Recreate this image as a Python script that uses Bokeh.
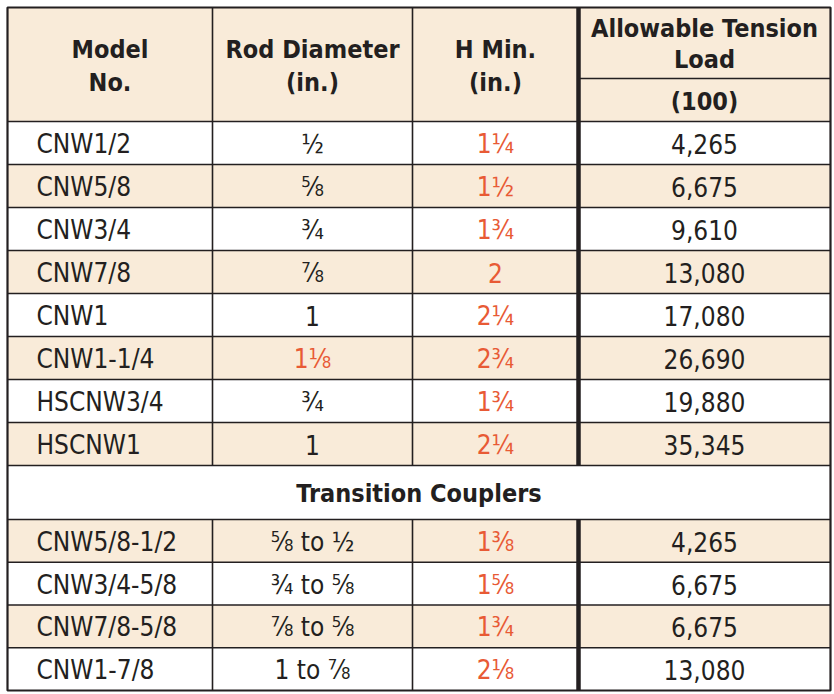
from bokeh.plotting import figure
from bokeh.models import Range1d, ColumnDataSource
from bokeh.core.properties import value
from bokeh.embed import file_html
from bokeh.resources import INLINE

# ---- data ----
header_cols = ["Model\nNo.", "Rod Diameter\n(in.)", "H Min.\n(in.)"]
header_load = "Allowable Tension\nLoad"
header_sub = "(100)"

models = ["CNW1/2", "CNW5/8", "CNW3/4", "CNW7/8", "CNW1", "CNW1-1/4", "HSCNW3/4", "HSCNW1"]
diameters = ["½", "⅝", "¾", "⅞", "1", "1⅛", "¾", "1"]
diam_highlight = [False, False, False, False, False, True, False, False]
hmins = ["1¼", "1½", "1¾", "2", "2¼", "2¾", "1¾", "2¼"]
loads = ["4,265", "6,675", "9,610", "13,080", "17,080", "26,690", "19,880", "35,345"]

section_title = "Transition Couplers"
t_models = ["CNW5/8-1/2", "CNW3/4-5/8", "CNW7/8-5/8", "CNW1-7/8"]
t_diameters = ["⅝ to ½", "¾ to ⅝", "⅞ to ⅝", "1 to ⅞"]
t_hmins = ["1⅜", "1⅝", "1¾", "2⅛"]
t_loads = ["4,265", "6,675", "6,675", "13,080"]

# ---- style ----
FONT = "DejaVu Sans Condensed"
BEIGE = "#F9EBD9"
ORANGE = "#E85A35"
DARK = "#231F20"
BODY_SIZE = "26px"
HEAD_SIZE = "25px"

# geometry (page-pixel coordinates)
X0, X1, X2, X3, X4 = 7, 212, 412, 578, 830
Y_TOP, Y_HEAD, Y_SUB = 7, 121, 78
ROW_H = 43.0
Y_SEC_TOP = Y_HEAD + ROW_H * len(models)
Y_SEC_BOT = Y_SEC_TOP + 54
Y_BOT = 690
T_ROW_H = (Y_BOT - Y_SEC_BOT) / len(t_models)

p = figure(width=834, height=694, x_range=Range1d(0, 834), y_range=Range1d(694, 0),
           output_backend="svg", toolbar_location=None, min_border=0)
p.axis.visible = False
p.grid.visible = False
p.outline_line_color = None
p.background_fill_color = "white"
p.border_fill_color = "white"

# backgrounds
lefts, rights, tops, bottoms = [], [], [], []
lefts.append(X0); rights.append(X4); tops.append(Y_TOP); bottoms.append(Y_HEAD)
for i in range(len(models)):
    if i % 2 == 1:
        lefts.append(X0); rights.append(X4)
        tops.append(Y_HEAD + i * ROW_H); bottoms.append(Y_HEAD + (i + 1) * ROW_H)
for i in range(len(t_models)):
    if i % 2 == 0:
        lefts.append(X0); rights.append(X4)
        tops.append(Y_SEC_BOT + i * T_ROW_H); bottoms.append(Y_SEC_BOT + (i + 1) * T_ROW_H)
p.quad(left=lefts, right=rights, top=tops, bottom=bottoms, fill_color=BEIGE, line_color=None)

# lines
hlines = [Y_HEAD] + [Y_HEAD + (i + 1) * ROW_H for i in range(len(models))] + \
         [Y_SEC_BOT + (i + 1) * T_ROW_H for i in range(len(t_models) - 1)] + [Y_SEC_BOT]
p.segment(x0=[X0] * len(hlines), x1=[X4] * len(hlines), y0=hlines, y1=hlines,
          line_color=DARK, line_width=1.6)
p.segment(x0=[X3], x1=[X4], y0=[Y_SUB], y1=[Y_SUB], line_color=DARK, line_width=1.6)
vx = [X1, X2, X1, X2]
vy0 = [Y_TOP, Y_TOP, Y_SEC_BOT, Y_SEC_BOT]
vy1 = [Y_SEC_TOP, Y_SEC_TOP, Y_BOT, Y_BOT]
p.segment(x0=vx, x1=vx, y0=vy0, y1=vy1, line_color=DARK, line_width=1.6)
p.segment(x0=[X3, X3], x1=[X3, X3], y0=[Y_TOP, Y_SEC_BOT], y1=[Y_SEC_TOP, Y_BOT],
          line_color=DARK, line_width=4.5)
# outer border
p.quad(left=[X0], right=[X4], top=[Y_TOP], bottom=[Y_BOT], fill_color=None,
       line_color=DARK, line_width=2.2)

# header texts
hc_x = [(X0 + X1) / 2, (X1 + X2) / 2, (X2 + X3) / 2]
for cx, t in zip(hc_x, header_cols):
    l1, l2 = t.split("\n")
    p.text(x=[cx, cx], y=[49, 82], text=[l1, l2], text_font=value(FONT),
           text_font_style="bold", text_font_size=HEAD_SIZE, text_align="center",
           text_baseline="middle", text_color=DARK)
l1, l2 = header_load.split("\n")
cx4 = (X3 + X4) / 2
p.text(x=[cx4, cx4, cx4], y=[28, 59, 101], text=[l1, l2, header_sub], text_font=value(FONT),
       text_font_style="bold", text_font_size=HEAD_SIZE, text_align="center",
       text_baseline="middle", text_color=DARK)

# section title
p.text(x=[(X0 + X4) / 2], y=[(Y_SEC_TOP + Y_SEC_BOT) / 2 + 1], text=[section_title],
       text_font=value(FONT), text_font_style="bold", text_font_size=HEAD_SIZE,
       text_align="center", text_baseline="middle", text_color=DARK)

# body texts
all_models = models + t_models
all_diam = diameters + t_diameters
all_dhl = diam_highlight + [False] * len(t_models)
all_hmin = hmins + t_hmins
all_loads = loads + t_loads
ys = [Y_HEAD + (i + 0.5) * ROW_H + 1 for i in range(len(models))] + \
     [Y_SEC_BOT + (i + 0.5) * T_ROW_H + 1 for i in range(len(t_models))]

src_m = ColumnDataSource(dict(x=[36] * len(ys), y=ys, t=all_models))
p.text(x="x", y="y", text="t", source=src_m, text_font=value(FONT), text_font_size=BODY_SIZE,
       text_align="left", text_baseline="middle", text_color=DARK)
src_d = ColumnDataSource(dict(x=[(X1 + X2) / 2] * len(ys), y=ys, t=all_diam,
                              c=[ORANGE if h else DARK for h in all_dhl]))
p.text(x="x", y="y", text="t", source=src_d, text_font=value(FONT), text_font_size=BODY_SIZE,
       text_align="center", text_baseline="middle", text_color="c")
src_h = ColumnDataSource(dict(x=[(X2 + X3) / 2] * len(ys), y=ys, t=all_hmin))
p.text(x="x", y="y", text="t", source=src_h, text_font=value(FONT), text_font_size=BODY_SIZE,
       text_align="center", text_baseline="middle", text_color=ORANGE)
src_l = ColumnDataSource(dict(x=[cx4] * len(ys), y=ys, t=all_loads))
p.text(x="x", y="y", text="t", source=src_l, text_font=value(FONT), text_font_size=BODY_SIZE,
       text_align="center", text_baseline="middle", text_color=DARK)

open("out.html", "w").write(file_html(p, INLINE))
